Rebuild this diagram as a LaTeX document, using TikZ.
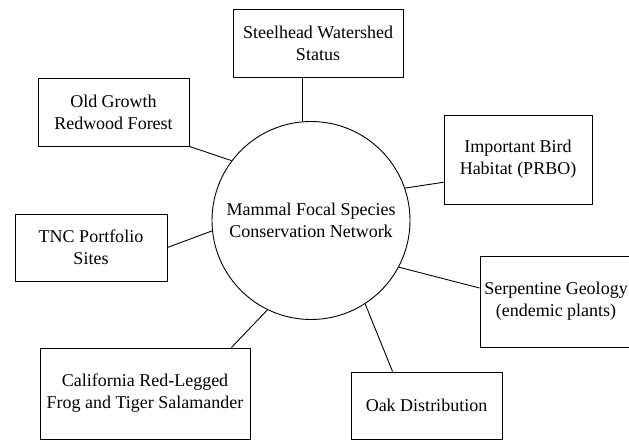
\documentclass[tikz,border=0pt]{standalone}
\usepackage{fontspec}
\setmainfont{Liberation Serif}
\usetikzlibrary{positioning}

\begin{document}
\begin{tikzpicture}[
  x=1pt,y=1pt,
  font=\fontsize{18}{22}\selectfont,
  box/.style={draw,line width=0.9pt,align=center,inner sep=0pt},
  hubnode/.style={draw,circle,line width=0.9pt,align=center,inner sep=0pt,minimum size=198pt},
  link/.style={line width=0.9pt},
]
\useasboundingbox (0,0) rectangle (629,441);

% centre
\node[hubnode] (hub) at (311,220.5) {Mammal Focal Species\\Conservation Network};

% surrounding layers
\node[box,minimum width=170pt,minimum height=68pt] (steel) at (318,398)
  {Steelhead Watershed\\Status};
\node[box,minimum width=151pt,minimum height=68pt] (oldg) at (113.5,329)
  {Old Growth\\Redwood Forest};
\node[box,minimum width=148pt,minimum height=89pt] (bird) at (518,281.5)
  {Important Bird\\Habitat (PRBO)};
\node[box,minimum width=152pt,minimum height=67pt] (tnc) at (91,193.5)
  {TNC Portfolio\\Sites};
\node[box,minimum width=152pt,minimum height=91pt] (serp) at (556,139.5)
  {Serpentine Geology\\(endemic plants)};
\node[box,minimum width=210pt,minimum height=91pt] (cal) at (145,47.5)
  {California Red-Legged\\Frog and Tiger Salamander};
\node[box,minimum width=151pt,minimum height=67pt] (oak) at (426.5,35.5)
  {Oak Distribution};

% links
\draw[link] (hub.95) -- (hub.95 |- steel.south);
\draw[link] (hub.143) -- (oldg.south east);
\draw[link] (hub.19) -- (bird.197);
\draw[link] (hub.186) -- (tnc.east);
\draw[link] (hub.332) -- (serp.170);
\draw[link] (hub.244) -- (cal.28);
\draw[link] (hub.303) -- (oak.135);

\end{tikzpicture}
\end{document}
